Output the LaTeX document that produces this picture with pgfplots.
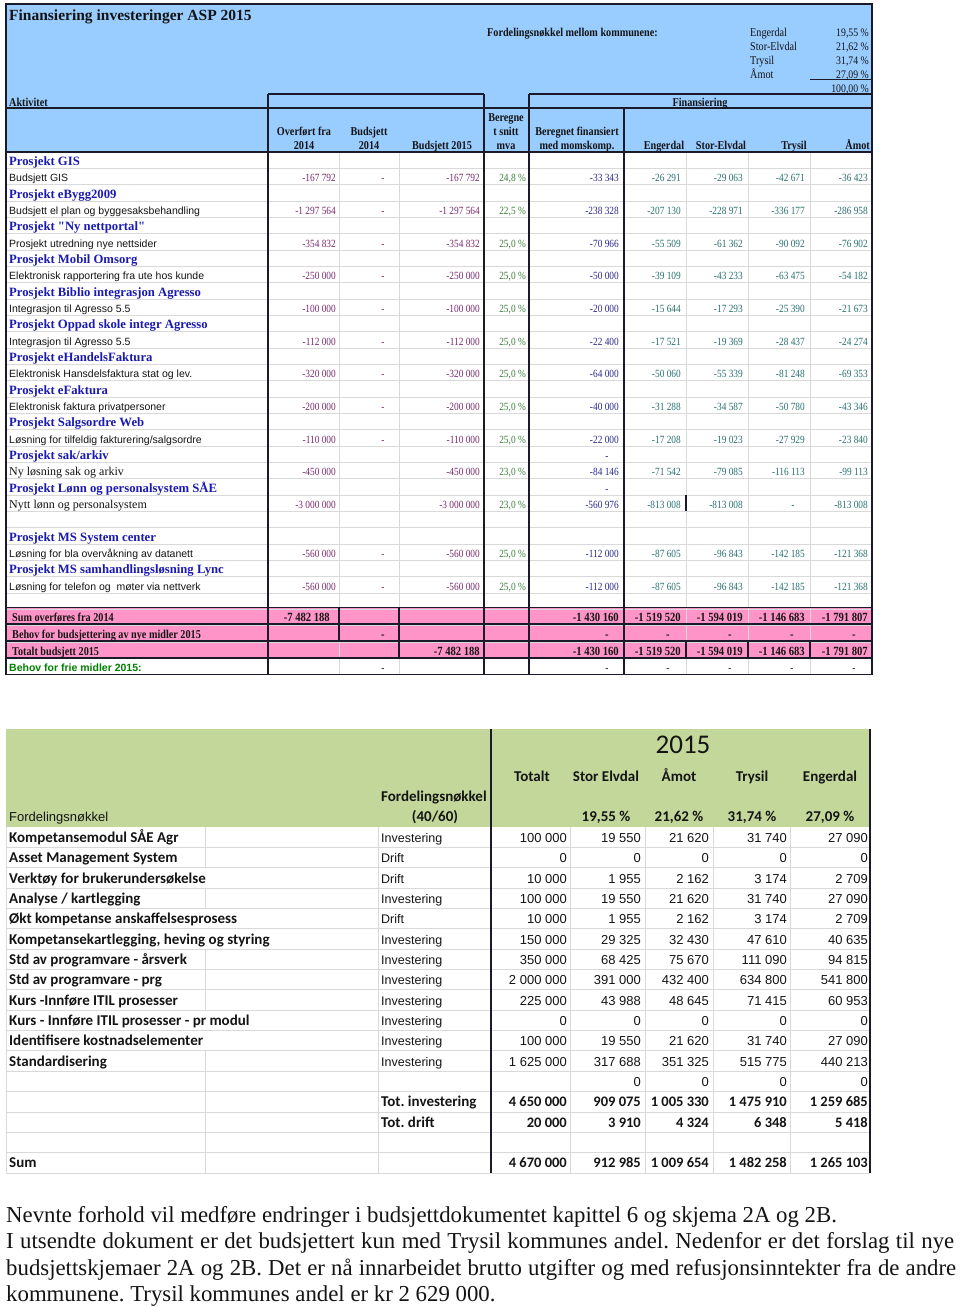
\documentclass[border=0pt]{standalone}
\usepackage{fontspec}
\usepackage{pgfplots}
\pgfplotsset{compat=1.18}
\setmainfont{Liberation Serif}
\newfontfamily\arial{Liberation Sans}
\newfontfamily\carl{Carlito}
\newfontfamily\cond[FakeStretch=0.85]{Liberation Serif}
\frenchspacing

\definecolor{hdrblue}{HTML}{99CCFF}
\definecolor{pinkc}{HTML}{FF94C8}
\definecolor{sgreen}{HTML}{C4D79B}
\definecolor{dark}{HTML}{1A1A2A}
\definecolor{lgrey}{HTML}{D9D9D9}
\definecolor{purp}{HTML}{7A2A6E}
\definecolor{pgreen}{HTML}{3D7F3D}
\definecolor{bblue}{HTML}{2A2A8C}
\definecolor{tealc}{HTML}{2A7070}
\definecolor{hblue}{HTML}{1A1AB0}
\definecolor{fgreen}{HTML}{008000}
\definecolor{txt}{HTML}{141414}

\tikzset{tl/.style={anchor=mid west,inner sep=0pt,yshift=-3pt},
         tr/.style={anchor=mid east,inner sep=0pt,yshift=-3pt},
         tc/.style={anchor=mid,inner sep=0pt,yshift=-3pt}}

\newcommand{\hd}{\cond\bfseries\fontsize{12}{12}\selectfont\color{txt}}
\newcommand{\nm}{\cond\fontsize{11}{11}\selectfont}
\newcommand{\pc}{\cond\fontsize{11}{11}\selectfont}
\newcommand{\lab}{\arial\fontsize{10.5}{10.5}\selectfont\color{txt}}
\newcommand{\proj}{\rmfamily\bfseries\fontsize{12.7}{12.7}\selectfont\color{hblue}}
\newcommand{\pk}{\cond\bfseries\fontsize{12}{12}\selectfont\color{txt}}
\newcommand{\pkn}{\cond\bfseries\fontsize{12.5}{12.5}\selectfont\color{txt}}
\newcommand{\calb}{\carl\bfseries\fontsize{15}{15}\selectfont\color{txt}}
\newcommand{\caln}{\carl\bfseries\fontsize{14.5}{14.5}\selectfont\color{txt}}
\newcommand{\sar}{\arial\fontsize{12.5}{12.5}\selectfont\color{txt}}
\newcommand{\snum}{\arial\fontsize{13}{13}\selectfont\color{txt}}
\newcommand{\para}{\rmfamily\fontsize{22.8}{23}\selectfont\color{txt}}

% top table data rows
\newcommand{\rowA}[5]{%
 \node[tl] at (axis cs:9,#1) {\lab #2};
 \node[tr] at (axis cs:336,#1) {\nm\color{purp}#3};
 \node[tc] at (axis cs:383,#1) {\nm\color{purp}#4};
 \node[tr] at (axis cs:480,#1) {\nm\color{purp}#5};}
\newcommand{\rowB}[7]{%
 \node[tr] at (axis cs:526,#1) {\pc\color{pgreen}#2};
 \node[tr] at (axis cs:619,#1) {\nm\color{bblue}#3};
 \node[tr] at (axis cs:681,#1) {\nm\color{tealc}#4};
 \node[tr] at (axis cs:743,#1) {\nm\color{tealc}#5};
 \node[tr] at (axis cs:805,#1) {\nm\color{tealc}#6};
 \node[tr] at (axis cs:868,#1) {\nm\color{tealc}#7};}
\newcommand{\prj}[2]{\node[tl] at (axis cs:9,#1) {\proj #2};}
\newcommand{\pkrow}[6]{%
 \node[tr] at (axis cs:619,#1) {\pkn #2};
 \node[tr] at (axis cs:681,#1) {\pkn #3};
 \node[tr] at (axis cs:743,#1) {\pkn #4};
 \node[tr] at (axis cs:805,#1) {\pkn #5};
 \node[tr] at (axis cs:868,#1) {\pkn #6};}
\newcommand{\dashes}[2]{%
 \node[tc] at (axis cs:383,#1) {#2-};
 \node[tc] at (axis cs:607,#1) {#2-};
 \node[tc] at (axis cs:668,#1) {#2-};
 \node[tc] at (axis cs:730,#1) {#2-};
 \node[tc] at (axis cs:792,#1) {#2-};
 \node[tc] at (axis cs:854,#1) {#2-};}

% second table rows
\newcommand{\srow}[8]{%
 \node[tl] at (axis cs:9,#1) {\calb #2};
 \node[tl] at (axis cs:381,#1) {\sar #3};
 \node[tr] at (axis cs:567,#1) {\snum #4};
 \node[tr] at (axis cs:641,#1) {\snum #5};
 \node[tr] at (axis cs:709,#1) {\snum #6};
 \node[tr] at (axis cs:787,#1) {\snum #7};
 \node[tr] at (axis cs:868,#1) {\snum #8};}
\newcommand{\trow}[8]{%
 \node[tl] at (axis cs:#2,#1) {\calb #3};
 \node[tr] at (axis cs:567,#1) {\caln #4};
 \node[tr] at (axis cs:641,#1) {\caln #5};
 \node[tr] at (axis cs:709,#1) {\caln #6};
 \node[tr] at (axis cs:787,#1) {\caln #7};
 \node[tr] at (axis cs:868,#1) {\caln #8};}

\begin{document}
\begin{tikzpicture}
\begin{axis}[scale only axis, width=960pt, height=1307pt,
  xmin=0, xmax=960, ymin=0, ymax=1307, y dir=reverse,
  hide axis, clip=false]

% ---------- background areas ----------
\addplot[fill=white, draw=none] coordinates {(0,0) (960,0) (960,1307) (0,1307)} -- cycle;
\addplot[fill=hdrblue, draw=none] coordinates {(6,4) (872,4) (872,152) (6,152)} -- cycle;
\addplot[fill=pinkc, draw=none] coordinates {(6,607.5) (872,607.5) (872,658) (6,658)} -- cycle;
\addplot[fill=sgreen, draw=none] coordinates {(6,729) (870,729) (870,827) (6,827)} -- cycle;

% ---------- top table grid ----------
\pgfplotsinvokeforeach{1,...,31}{
  \draw[lgrey, line width=0.8pt] (axis cs:6,{152+16.333*#1}) -- (axis cs:872,{152+16.333*#1});}
\pgfplotsinvokeforeach{339,399,686,748,810}{
  \draw[lgrey, line width=0.8pt] (axis cs:#1,152) -- (axis cs:#1,674.6);}

\draw[dark, line width=1.3pt] (axis cs:6,4) rectangle (axis cs:872,674.6);
\draw[dark, line width=1.3pt] (axis cs:268,94) -- (axis cs:484,94);
\draw[dark, line width=1.3pt] (axis cs:529,94) -- (axis cs:872,94);
\draw[dark, line width=0.8pt] (axis cs:810,79.5) -- (axis cs:872,79.5);
\draw[dark, line width=1.3pt] (axis cs:6,108) -- (axis cs:872,108);
\draw[dark, line width=1.3pt] (axis cs:6,152) -- (axis cs:872,152);
\draw[dark, line width=1.3pt] (axis cs:268,94) -- (axis cs:268,674.6);
\draw[dark, line width=1.3pt] (axis cs:484,94) -- (axis cs:484,674.6);
\draw[dark, line width=1.3pt] (axis cs:529,94) -- (axis cs:529,674.6);
\draw[dark, line width=1.3pt] (axis cs:624,108) -- (axis cs:624,674.6);
\pgfplotsinvokeforeach{607.5,624,641,658}{
  \draw[dark, line width=1.3pt] (axis cs:6,#1) -- (axis cs:872,#1);}
\draw[dark, line width=1.1pt] (axis cs:339,607.5) -- (axis cs:339,641);
\draw[dark, line width=1.1pt] (axis cs:399,607.5) -- (axis cs:399,658);
\pgfplotsinvokeforeach{686,748,810}{
  \draw[dark, line width=1.1pt] (axis cs:#1,641) -- (axis cs:#1,658);}
\draw[dark, line width=1.1pt] (axis cs:686,495) -- (axis cs:686,511);

% ---------- top table header ----------
\node[tl] at (axis cs:9,15) {\rmfamily\bfseries\fontsize{15.5}{16}\selectfont\color{txt}Finansiering investeringer ASP 2015};
\node[tl] at (axis cs:487,31) {\hd Fordelingsnøkkel mellom kommunene:};
\node[tl] at (axis cs:750,31) {\cond\fontsize{12}{12}\selectfont\color{txt}Engerdal};
\node[tl] at (axis cs:750,45) {\cond\fontsize{12}{12}\selectfont\color{txt}Stor-Elvdal};
\node[tl] at (axis cs:750,59) {\cond\fontsize{12}{12}\selectfont\color{txt}Trysil};
\node[tl] at (axis cs:750,73) {\cond\fontsize{12}{12}\selectfont\color{txt}Åmot};
\node[tr] at (axis cs:869,31) {\cond\fontsize{11.5}{12}\selectfont\color{txt}19,55 \%};
\node[tr] at (axis cs:869,45) {\cond\fontsize{11.5}{12}\selectfont\color{txt}21,62 \%};
\node[tr] at (axis cs:869,59) {\cond\fontsize{11.5}{12}\selectfont\color{txt}31,74 \%};
\node[tr] at (axis cs:869,73) {\cond\fontsize{11.5}{12}\selectfont\color{txt}27,09 \%};
\node[tr] at (axis cs:869,87) {\cond\fontsize{11.5}{12}\selectfont\color{txt}100,00 \%};
\node[tl] at (axis cs:9,101) {\hd Aktivitet};
\node[tc] at (axis cs:700,101) {\hd Finansiering};
\node[tc] at (axis cs:304,130) {\hd Overført fra};
\node[tc] at (axis cs:304,144) {\hd 2014};
\node[tc] at (axis cs:369,130) {\hd Budsjett};
\node[tc] at (axis cs:369,144) {\hd 2014};
\node[tc] at (axis cs:442,144) {\hd Budsjett 2015};
\node[tc] at (axis cs:506,116) {\hd Beregne};
\node[tc] at (axis cs:506,130) {\hd t snitt};
\node[tc] at (axis cs:506,144) {\hd mva};
\node[tc] at (axis cs:577,130) {\hd Beregnet finansiert};
\node[tc] at (axis cs:577,144) {\hd med momskomp.};
\node[tc] at (axis cs:664,144) {\hd Engerdal};
\node[tc] at (axis cs:721,144) {\hd Stor-Elvdal};
\node[tc] at (axis cs:794,144) {\hd Trysil};
\node[tr] at (axis cs:870,144) {\hd Åmot};

% ---------- top table body ----------
\prj{160}{Prosjekt GIS}
\rowA{176.3}{Budsjett GIS}{-167 792}{-}{-167 792}
\rowB{176.3}{24,8 \%}{-33 343}{-26 291}{-29 063}{-42 671}{-36 423}
\prj{192.7}{Prosjekt eBygg2009}
\rowA{209.0}{Budsjett el plan og byggesaksbehandling}{-1 297 564}{-}{-1 297 564}
\rowB{209.0}{22,5 \%}{-238 328}{-207 130}{-228 971}{-336 177}{-286 958}
\prj{225.3}{Prosjekt \textquotedbl Ny nettportal\textquotedbl}
\rowA{241.7}{Prosjekt utredning nye nettsider}{-354 832}{-}{-354 832}
\rowB{241.7}{25,0 \%}{-70 966}{-55 509}{-61 362}{-90 092}{-76 902}
\prj{258.0}{Prosjekt Mobil Omsorg}
\rowA{274.3}{Elektronisk rapportering fra ute hos kunde}{-250 000}{-}{-250 000}
\rowB{274.3}{25,0 \%}{-50 000}{-39 109}{-43 233}{-63 475}{-54 182}
\prj{290.7}{Prosjekt Biblio integrasjon Agresso}
\rowA{307.0}{Integrasjon til Agresso 5.5}{-100 000}{-}{-100 000}
\rowB{307.0}{25,0 \%}{-20 000}{-15 644}{-17 293}{-25 390}{-21 673}
\prj{323.3}{Prosjekt Oppad skole integr Agresso}
\rowA{339.7}{Integrasjon til Agresso 5.5}{-112 000}{-}{-112 000}
\rowB{339.7}{25,0 \%}{-22 400}{-17 521}{-19 369}{-28 437}{-24 274}
\prj{356.0}{Prosjekt eHandelsFaktura}
\rowA{372.3}{Elektronisk Hansdelsfaktura stat og lev.}{-320 000}{-}{-320 000}
\rowB{372.3}{25,0 \%}{-64 000}{-50 060}{-55 339}{-81 248}{-69 353}
\prj{388.7}{Prosjekt eFaktura}
\rowA{405.0}{Elektronisk faktura privatpersoner}{-200 000}{-}{-200 000}
\rowB{405.0}{25,0 \%}{-40 000}{-31 288}{-34 587}{-50 780}{-43 346}
\prj{421.3}{Prosjekt Salgsordre Web}
\rowA{437.7}{Løsning for tilfeldig fakturering/salgsordre}{-110 000}{-}{-110 000}
\rowB{437.7}{25,0 \%}{-22 000}{-17 208}{-19 023}{-27 929}{-23 840}
\prj{454.0}{Prosjekt sak/arkiv}
\node[tc] at (axis cs:607,454) {\nm\color{bblue}-};
\rowA{470.3}{\rmfamily\fontsize{12}{12}\selectfont Ny løsning sak og arkiv}{-450 000}{}{-450 000}
\rowB{470.3}{23,0 \%}{-84 146}{-71 542}{-79 085}{-116 113}{-99 113}
\prj{486.7}{Prosjekt Lønn og personalsystem SÅE}
\node[tc] at (axis cs:607,486.7) {\nm\color{bblue}-};
\rowA{503.0}{\rmfamily\fontsize{12}{12}\selectfont Nytt lønn og personalsystem}{-3 000 000}{}{-3 000 000}
\rowB{503.0}{23,0 \%}{-560 976}{-813 008}{-813 008}{}{-813 008}
\node[tc] at (axis cs:793,503) {\nm\color{tealc}-};
\prj{535.7}{Prosjekt MS System center}
\rowA{552.0}{Løsning for bla overvåkning av datanett}{-560 000}{-}{-560 000}
\rowB{552.0}{25,0 \%}{-112 000}{-87 605}{-96 843}{-142 185}{-121 368}
\prj{568.3}{Prosjekt MS samhandlingsløsning Lync}
\rowA{584.7}{Løsning for telefon og\ \ møter via nettverk}{-560 000}{-}{-560 000}
\rowB{584.7}{25,0 \%}{-112 000}{-87 605}{-96 843}{-142 185}{-121 368}

% pink summary rows
\node[tl] at (axis cs:12,616.3) {\pk Sum overføres fra 2014};
\node[tr] at (axis cs:330,616.3) {\pkn -7 482 188};
\pkrow{616.3}{-1 430 160}{-1 519 520}{-1 594 019}{-1 146 683}{-1 791 807}
\node[tl] at (axis cs:12,633.3) {\pk Behov for budsjettering av nye midler 2015};
\dashes{633.3}{\pkn}
\node[tl] at (axis cs:12,650) {\pk Totalt budsjett 2015};
\node[tr] at (axis cs:480,650) {\pkn -7 482 188};
\pkrow{650}{-1 430 160}{-1 519 520}{-1 594 019}{-1 146 683}{-1 791 807}
\node[tl] at (axis cs:9,666.3) {\arial\bfseries\fontsize{10.5}{10.5}\selectfont\color{fgreen}Behov for frie midler 2015:};
\dashes{666.3}{\nm\color{txt}}

% ---------- second table grid ----------
\pgfplotsinvokeforeach{1,...,17}{
  \draw[lgrey, line width=0.8pt] (axis cs:6,{827+20.35*#1}) -- (axis cs:870,{827+20.35*#1});}
\pgfplotsinvokeforeach{6,378,570,645,713,790}{
  \draw[lgrey, line width=0.8pt] (axis cs:#1,827) -- (axis cs:#1,1173);}
\pgfplotsinvokeforeach{0,1,3,6,7,8,11,12,13,14,15,16}{
  \draw[lgrey, line width=0.8pt] (axis cs:205,{827+20.35*#1}) -- (axis cs:205,{827+20.35*(#1+1)});}
\draw[dark, line width=2pt] (axis cs:491,729) -- (axis cs:491,1173);
\draw[dark, line width=2pt] (axis cs:870,729) -- (axis cs:870,1173);

% ---------- second table header ----------
\node[tc] at (axis cs:683,748) {\carl\fontsize{27}{27}\selectfont\color{txt}2015};
\node[tc] at (axis cs:532,776) {\calb Totalt};
\node[tc] at (axis cs:606,776) {\calb Stor Elvdal};
\node[tc] at (axis cs:679,776) {\calb Åmot};
\node[tc] at (axis cs:752,776) {\calb Trysil};
\node[tc] at (axis cs:830,776) {\calb Engerdal};
\node[tl] at (axis cs:381,796) {\calb Fordelingsnøkkel};
\node[tc] at (axis cs:435,816) {\calb (40/60)};
\node[tl] at (axis cs:9,816) {\arial\fontsize{13}{13}\selectfont\color{txt}Fordelingsnøkkel};
\node[tc] at (axis cs:606,816) {\calb 19,55 \%};
\node[tc] at (axis cs:679,816) {\calb 21,62 \%};
\node[tc] at (axis cs:752,816) {\calb 31,74 \%};
\node[tc] at (axis cs:830,816) {\calb 27,09 \%};

% ---------- second table body ----------
\srow{837.0}{Kompetansemodul SÅE Agr}{Investering}{100 000}{19 550}{21 620}{31 740}{27 090}
\srow{857.4}{Asset Management System}{Drift}{0}{0}{0}{0}{0}
\srow{877.7}{Verktøy for brukerundersøkelse}{Drift}{10 000}{1 955}{2 162}{3 174}{2 709}
\srow{898.1}{Analyse / kartlegging}{Investering}{100 000}{19 550}{21 620}{31 740}{27 090}
\srow{918.4}{Økt kompetanse anskaffelsesprosess}{Drift}{10 000}{1 955}{2 162}{3 174}{2 709}
\srow{938.8}{Kompetansekartlegging, heving og styring}{Investering}{150 000}{29 325}{32 430}{47 610}{40 635}
\srow{959.1}{Std av programvare - årsverk}{Investering}{350 000}{68 425}{75 670}{111 090}{94 815}
\srow{979.5}{Std av programvare - prg}{Investering}{2 000 000}{391 000}{432 400}{634 800}{541 800}
\srow{999.8}{Kurs -Innføre ITIL prosesser}{Investering}{225 000}{43 988}{48 645}{71 415}{60 953}
\srow{1020.2}{Kurs - Innføre ITIL prosesser - pr modul}{Investering}{0}{0}{0}{0}{0}
\srow{1040.5}{Identifisere kostnadselementer}{Investering}{100 000}{19 550}{21 620}{31 740}{27 090}
\srow{1060.9}{Standardisering}{Investering}{1 625 000}{317 688}{351 325}{515 775}{440 213}
\srow{1081.2}{}{}{}{0}{0}{0}{0}
\trow{1101.6}{381}{Tot. investering}{4 650 000}{909 075}{1 005 330}{1 475 910}{1 259 685}
\trow{1121.9}{381}{Tot. drift}{20 000}{3 910}{4 324}{6 348}{5 418}
\trow{1162.6}{9}{Sum}{4 670 000}{912 985}{1 009 654}{1 482 258}{1 265 103}

% ---------- paragraph ----------
\node[tl, yshift=-3pt] at (axis cs:6,1214) {\para Nevnte forhold vil medføre endringer i budsjettdokumentet kapittel 6 og skjema 2A og 2B.};
\node[tl, yshift=-3pt] at (axis cs:6,1240) {\para\makebox[948pt][s]{I utsendte dokument er det budsjettert kun med Trysil kommunes andel. Nedenfor er det forslag til nye}};
\node[tl, yshift=-3pt] at (axis cs:6,1267) {\para\makebox[950pt][s]{budsjettskjemaer 2A og 2B. Det er nå innarbeidet brutto utgifter og med refusjonsinntekter fra de andre}};
\node[tl, yshift=-3pt] at (axis cs:6,1293) {\para kommunene. Trysil kommunes andel er kr 2 629 000.};

\end{axis}
\end{tikzpicture}
\end{document}
